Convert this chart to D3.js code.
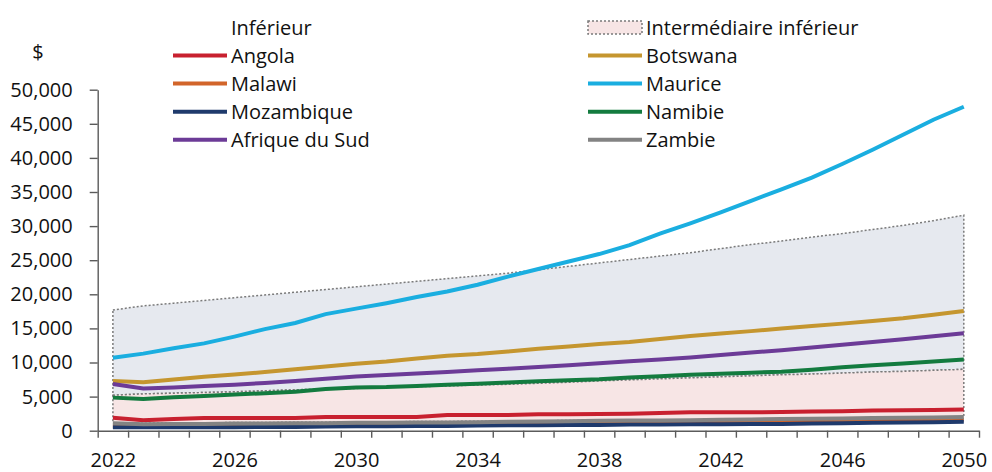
<!DOCTYPE html>
<head>
<meta charset="utf-8">
<title>D3</title>
<style>
  body { margin: 0; background: #fff; }
  text { font-family: "Open Sans", sans-serif; font-size: 20px; fill: #111; }
  .axis path, .axis line { stroke: #5b5b5b; stroke-width: 1.4px; }
  .axis text { font-family: "Open Sans", sans-serif; font-size: 20px; fill: #111; }
  .serie { fill: none; stroke-width: 4px; }
  .bande { stroke: #7a7a7a; stroke-width: 1.5px; stroke-dasharray: 2,2; }
</style>
</head>
<body>
<div id="chart"></div>
<script src="https://cdn.jsdelivr.net/npm/d3@7"></script>
<script>
// années 2022 - 2050
var annees = d3.range(2022, 2051);
var etiquettesX = [2022, 2026, 2030, 2034, 2038, 2042, 2046, 2050];
var ticksY = d3.range(0, 50001, 5000);

// seuils de revenu (bandes)
var seuilInferieur = [1.1,1.1,1.15,1.15,1.2,1.2,1.25,1.25,1.3,1.3,1.35,1.35,1.4,1.4,1.45,1.5,1.5,1.55,1.6,1.6,1.65,1.7,1.7,1.75,1.8,1.85,1.9,1.95,2.0];
var seuilIntermInf = [5.2,5.4,5.5,5.6,5.7,5.85,6.0,6.1,6.2,6.35,6.45,6.55,6.7,6.8,6.95,7.1,7.3,7.45,7.6,7.75,7.9,8.05,8.2,8.3,8.45,8.6,8.7,8.85,9.0];
var seuilIntermSup = [17.7,18.3,18.7,19.1,19.5,19.9,20.3,20.7,21.1,21.5,21.9,22.3,22.7,23.1,23.6,24.1,24.6,25.1,25.6,26.1,26.7,27.3,27.8,28.4,28.9,29.5,30.1,30.8,31.6];

// PIB par habitant (milliers de $)
var angola = [1.9,1.55,1.7,1.85,1.85,1.85,1.85,2.0,2.0,2.0,2.0,2.3,2.3,2.3,2.4,2.4,2.45,2.5,2.6,2.7,2.7,2.7,2.75,2.8,2.85,2.95,3.0,3.05,3.1];
var botswana = [7.3,7.1,7.5,7.9,8.25,8.6,9.0,9.4,9.8,10.15,10.6,11.0,11.25,11.6,12.0,12.35,12.7,13.0,13.45,13.9,14.25,14.6,15.0,15.35,15.7,16.1,16.5,17.0,17.55];
var malawi = [0.65,0.6,0.65,0.7,0.7,0.75,0.75,0.8,0.8,0.85,0.85,0.9,0.9,0.95,1.0,1.0,1.05,1.1,1.1,1.15,1.2,1.25,1.3,1.35,1.4,1.45,1.5,1.55,1.6];
var maurice = [10.7,11.3,12.1,12.8,13.8,14.9,15.8,17.1,17.9,18.7,19.6,20.4,21.4,22.6,23.7,24.8,25.9,27.2,28.9,30.4,32.0,33.7,35.4,37.1,39.1,41.2,43.4,45.6,47.5];
var mozambique = [0.5,0.5,0.5,0.5,0.5,0.55,0.55,0.6,0.65,0.65,0.7,0.7,0.75,0.8,0.8,0.85,0.85,0.9,0.9,0.95,0.95,1.0,1.0,1.05,1.1,1.15,1.2,1.25,1.3];
var namibie = [4.85,4.65,4.9,5.1,5.3,5.5,5.7,6.1,6.35,6.4,6.55,6.75,6.9,7.05,7.25,7.4,7.55,7.8,8.0,8.2,8.35,8.5,8.65,8.95,9.3,9.6,9.85,10.15,10.45];
var afriqueSud = [6.85,6.2,6.35,6.55,6.75,7.0,7.3,7.6,7.95,8.15,8.4,8.6,8.85,9.1,9.35,9.6,9.9,10.2,10.45,10.75,11.1,11.45,11.8,12.2,12.6,13.0,13.4,13.85,14.3];
var zambie = [1.1,0.95,1.0,1.0,1.05,1.05,1.1,1.1,1.15,1.15,1.2,1.2,1.25,1.3,1.35,1.4,1.45,1.5,1.5,1.55,1.6,1.65,1.7,1.75,1.8,1.85,1.9,1.95,2.0];

var series = [
  {nom: "Angola", valeurs: angola, couleur: "#c8202f"},
  {nom: "Botswana", valeurs: botswana, couleur: "#c5962f"},
  {nom: "Malawi", valeurs: malawi, couleur: "#d2652a"},
  {nom: "Maurice", valeurs: maurice, couleur: "#1aaee0"},
  {nom: "Mozambique", valeurs: mozambique, couleur: "#1f3a6c"},
  {nom: "Namibie", valeurs: namibie, couleur: "#137b3f"},
  {nom: "Afrique du Sud", valeurs: afriqueSud, couleur: "#6c3b97"},
  {nom: "Zambie", valeurs: zambie, couleur: "#838383"}
];

var width = 992, height = 472;
var svg = d3.select("#chart").append("svg")
  .attr("width", width).attr("height", height);

var x = d3.scaleLinear().domain([2021.5, 2050.5]).range([97.7, 979]);
var y = d3.scaleLinear().domain([0, 50000]).range([430.7, 89.7]);

// bandes
var bandeSup = d3.area()
  .x(function(d, i) { return x(annees[i]); })
  .y0(function(d, i) { return y(seuilIntermInf[i] * 1000); })
  .y1(function(d) { return y(d * 1000); });
var bandeInf = d3.area()
  .x(function(d, i) { return x(annees[i]); })
  .y0(function(d, i) { return y(seuilInferieur[i] * 1000); })
  .y1(function(d) { return y(d * 1000); });

svg.append("path").datum(seuilIntermSup)
  .attr("class", "bande").attr("fill", "#e6e9ef").attr("d", bandeSup);
svg.append("path").datum(seuilIntermInf)
  .attr("class", "bande").attr("fill", "#f7e5e5").attr("d", bandeInf);

// axes
svg.append("g").attr("class", "axis")
  .attr("transform", "translate(" + x.range()[0] + ",0)")
  .call(d3.axisLeft(y).tickValues(ticksY).tickFormat(d3.format(","))
    .tickSize(8).tickSizeOuter(0).tickPadding(17));

svg.append("g").attr("class", "axis")
  .attr("transform", "translate(0," + y(0) + ")")
  .call(d3.axisBottom(x).tickValues(d3.range(2021.5, 2051, 1))
    .tickFormat("").tickSize(7).tickSizeOuter(0));

var axeLabels = svg.append("g").attr("class", "axis")
  .attr("transform", "translate(0," + y(0) + ")")
  .call(d3.axisBottom(x).tickValues(etiquettesX).tickFormat(d3.format("d"))
    .tickSize(0).tickPadding(22));
axeLabels.select(".domain").remove();

// courbes
var ligne = d3.line()
  .x(function(d, i) { return x(annees[i]); })
  .y(function(d) { return y(d * 1000); });

svg.selectAll(".serie")
  .data(series)
  .enter().append("path")
  .attr("class", "serie")
  .attr("stroke", function(d) { return d.couleur; })
  .attr("d", function(d) { return ligne(d.valeurs); });

svg.append("text").attr("x", 38).attr("y", 59).attr("text-anchor", "middle").text("$");

// légende
var rangY = [27.5, 55.5, 83.5, 111.7, 139.8];
var gauche = [{nom: "Inférieur", type: "vide"}, series[0], series[2], series[4], series[6]];
var droite = [{nom: "Intermédiaire inférieur", type: "bande"}, series[1], series[3], series[5], series[7]];

function legende(items, x0) {
  items.forEach(function(d, i) {
    var cy = rangY[i];
    if (d.type == "bande") {
      svg.append("rect").attr("class", "bande").attr("fill", "#f7e5e5")
        .attr("x", x0).attr("y", cy - 6.5).attr("width", 54).attr("height", 13);
    } else if (d.type != "vide") {
      svg.append("line").attr("x1", x0).attr("x2", x0 + 54)
        .attr("y1", cy).attr("y2", cy)
        .attr("stroke", d.couleur).attr("stroke-width", 4);
    }
    svg.append("text").attr("x", x0 + 58).attr("y", cy + 7.5).text(d.nom);
  });
}
legende(gauche, 173);
legende(droite, 588);
</script>
</body>
</html>
